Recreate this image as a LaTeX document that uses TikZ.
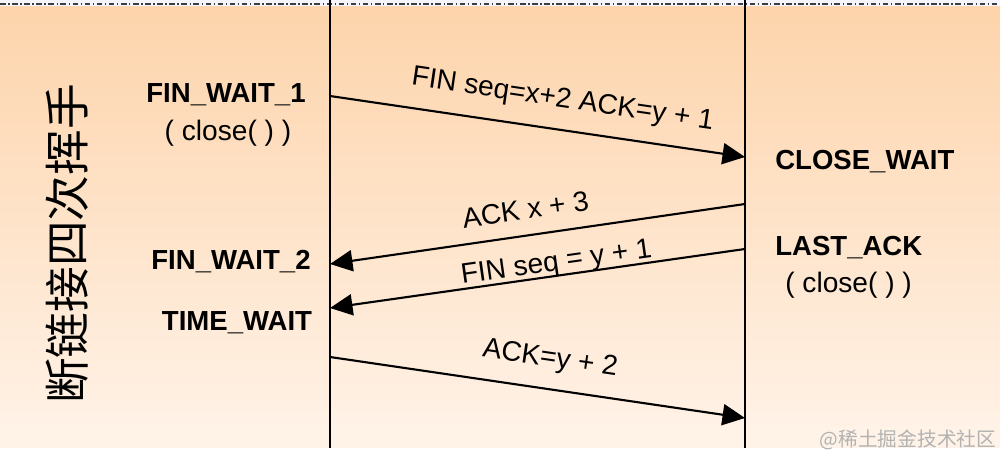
\documentclass[tikz,border=0pt]{standalone}
\usepackage{fontspec}
\setmainfont{Liberation Sans}
\newfontfamily\cjk{Noto Sans CJK SC}
\usetikzlibrary{arrows.meta}
\definecolor{peachtop}{RGB}{253,212,171}
\definecolor{peachbot}{RGB}{255,243,233}
\definecolor{edgegray}{RGB}{60,60,65}

\begin{document}
\begin{tikzpicture}[x=0.025cm,y=-0.025cm,font=\fontsize{20}{23}\selectfont,>={Triangle[length=16pt,width=15pt]}]
    \tikzset{st/.style={font=\fontsize{19.6}{23}\selectfont\bfseries,inner sep=0pt},
             cl/.style={inner sep=0pt},
             msg/.style={->,line width=1.5pt},
             lbl/.style={sloped,inner sep=0pt}}
    \useasboundingbox (0,0) rectangle (1000,458);
    % background
    \fill[white] (0,0) rectangle (1000,458);
    \shade[top color=peachtop,bottom color=peachbot] (0,6) rectangle (1000,447);
    \fill[blue!4] (0,0) rectangle (1000,6);
    \draw[edgegray,line width=1.8pt,dash pattern=on 4pt off 1.8pt on 1pt off 1.8pt] (0,4) -- (1000,4);
    % lifelines
    \coordinate (ltop) at (330,0); \coordinate (lbot) at (330,448);
    \coordinate (rtop) at (745,0); \coordinate (rbot) at (745,448);
    \draw[line width=1.3pt] (ltop) -- (lbot);
    \draw[line width=1.3pt] (rtop) -- (rbot);
    % message end points
    \coordinate (m1a) at (330,96);  \coordinate (m1b) at (745,157);
    \coordinate (m2a) at (745,204); \coordinate (m2b) at (330,264);
    \coordinate (m3a) at (745,249); \coordinate (m3b) at (330,308);
    \coordinate (m4a) at (330,357); \coordinate (m4b) at (745,418);
    % states
    \node[st] (fw1) at (226,95) {FIN\_WAIT\_1};
    \node[cl] (c1) at (228,133) {( close( ) )};
    \node[st] (fw2) at (231,262) {FIN\_WAIT\_2};
    \node[st] (tw) at (237,323) {TIME\_WAIT};
    \node[st,anchor=west] (cw) at (775,162) {CLOSE\_WAIT};
    \node[st,anchor=west] (la) at (775,248) {LAST\_ACK};
    \node[cl,anchor=west] (c2) at (785,285) {( close( ) )};
    \node[rotate=90,font=\cjk\fontsize{32.5}{35}\selectfont] (title) at (67,244) {断链接四次挥手};
    % messages
    \draw[msg] (m1a) -- node[lbl,pos=0.55,yshift=21pt] (l1) {FIN seq=x+2 ACK=y + 1} (m1b);
    \draw[msg] (m2a) -- node[lbl,pos=0.52,yshift=18.5pt] (l2) {ACK x + 3} (m2b);
    \draw[msg] (m3a) -- node[lbl,pos=0.45,yshift=8.5pt] (l3) {FIN seq = y + 1} (m3b);
    \draw[msg] (m4a) -- node[lbl,pos=0.52,yshift=21pt] (l4) {ACK=y + 2} (m4b);
    \node[font=\cjk\fontsize{14}{16}\selectfont,text=gray!60] (wm) at (908,440) {@稀土掘金技术社区};
  \end{tikzpicture}
\end{document}
